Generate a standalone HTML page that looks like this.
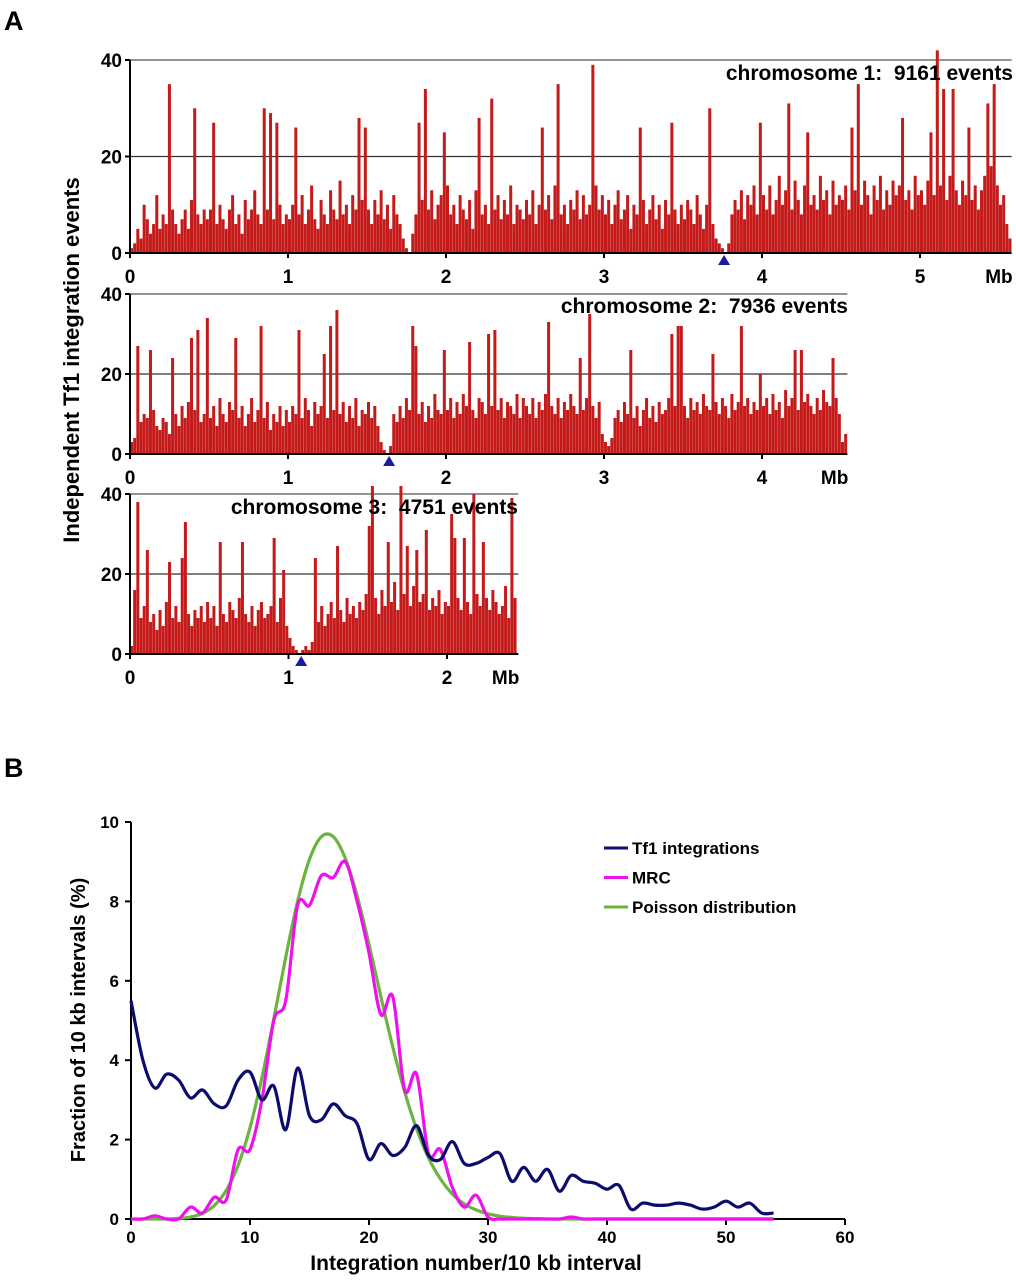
<!DOCTYPE html>
<html><head><meta charset="utf-8">
<style>
html,body{margin:0;padding:0;background:#fff;}
body{width:1016px;height:1280px;overflow:hidden;}
svg text{font-family:"Liberation Sans",Arial,sans-serif;font-weight:bold;fill:#000;}
</style></head>
<body>
<svg id="fig" width="1016" height="1280" viewBox="0 0 1016 1280" xmlns="http://www.w3.org/2000/svg">
<text x="4" y="30" font-size="27">A</text>
<text x="4" y="777" font-size="27">B</text>
<text transform="translate(79,360) rotate(-90)" text-anchor="middle" font-size="22">Independent Tf1 integration events</text>
<g id="panelA"></g>
<g id="panelB"></g>
</svg>
<script>
// ---------- Panel A data (20 kb bins) ----------
const chr1Values = [
1,2,5,3,10,7,4,6,12,5,8,6,35,9,6,4,7,9,5,11,30,8,6,9,7,
9,27,6,10,7,5,9,12,6,8,4,11,7,9,13,8,6,30,9,29,7,27,10,6,8,
7,10,26,8,12,6,9,14,7,5,11,8,6,13,9,7,15,8,10,6,12,9,28,11,26,
9,6,11,8,13,7,10,5,12,8,6,3,1,0,4,8,27,11,34,9,13,7,10,12,25,
14,8,10,6,12,9,7,11,5,13,28,8,10,6,32,9,12,7,11,8,14,6,10,9,7,
11,8,13,6,10,26,9,12,7,14,35,8,10,6,11,9,13,7,12,8,10,39,14,9,12,
8,11,6,10,13,7,9,12,5,10,8,26,11,6,9,12,7,10,5,11,8,27,9,6,10,
7,11,9,6,12,8,5,10,30,6,3,2,1,0,2,8,11,9,13,7,12,10,14,8,27,
12,9,14,8,11,16,10,13,31,9,15,11,8,14,25,10,12,9,16,11,13,8,15,10,12,
11,14,9,26,13,35,10,15,12,8,14,11,16,9,13,10,15,12,14,28,11,13,9,16,12,
13,10,15,25,12,42,14,34,11,16,34,13,10,15,12,26,11,14,9,13,16,31,18,35,14,
10,12,6,3];
const chr2Values = [
3,4,27,8,10,9,26,11,7,6,9,8,5,24,10,7,12,9,13,29,11,31,8,10,34,
9,12,7,14,10,8,13,11,29,9,12,7,10,14,8,11,32,9,13,6,10,8,12,7,11,
8,12,10,31,9,14,11,7,13,10,12,25,9,32,11,36,10,13,8,12,9,14,7,11,10,
13,9,12,7,3,1,0,2,10,8,12,9,14,11,32,27,10,13,8,12,9,15,11,10,26,
11,14,9,13,10,15,12,28,11,9,14,13,10,30,12,31,11,14,9,13,12,10,15,9,14,
12,10,14,9,13,11,15,33,12,10,14,9,13,11,15,12,10,24,11,14,35,12,9,13,5,
3,2,4,9,11,8,13,10,26,9,12,7,11,14,9,12,8,13,10,11,14,30,12,32,32,
12,9,14,11,13,10,15,12,11,25,13,10,14,12,9,15,11,13,32,12,14,10,13,11,20,
12,14,10,15,11,13,9,16,12,14,26,11,26,13,15,12,10,14,11,16,13,12,24,14,10,
3,5];
const chr3Values = [
2,16,38,9,12,26,8,10,6,11,7,13,23,9,12,8,24,33,10,7,11,9,12,8,13,
9,12,7,28,10,8,13,11,9,14,28,10,8,12,7,11,13,9,10,12,29,8,14,21,7,
4,2,1,0,1,2,1,3,24,8,12,7,10,13,9,27,11,8,14,10,12,9,13,11,15,
32,42,14,10,16,12,28,13,18,11,42,15,27,12,17,26,13,15,31,11,14,12,16,10,13,
12,35,29,14,11,29,13,10,40,15,12,28,14,11,16,13,10,12,17,9,39,14];
const binMb = 0.02;
const yTicksA = [0,20,40];
const chr1Ticks = [0,1,2,3,4,5];
const chr2Ticks = [0,1,2,3,4];
const chr3Ticks = [0,1,2];
const chrLengths = [5.58,4.54,2.45];
const centromeres = [3.76,1.64,1.08];
const chrLabels = ["chromosome 1:\u00a0 9161 events","chromosome 2:\u00a0 7936 events","chromosome 3:\u00a0 4751 events"];

// ---------- Panel B data ----------
const bX = Array.from({length:55},(_,i)=>i);
const tf1Values = [5.5,4.0,3.3,3.65,3.5,3.05,3.25,2.9,2.85,3.5,3.7,3.0,3.35,2.25,3.8,2.6,2.5,2.9,2.6,2.4,1.5,1.9,1.6,1.8,2.35,1.6,1.5,1.95,1.4,1.4,1.55,1.65,0.95,1.3,0.95,1.25,0.7,1.1,0.95,0.9,0.75,0.85,0.25,0.4,0.35,0.35,0.4,0.35,0.25,0.3,0.45,0.3,0.4,0.15,0.15];
const mrcValues = [0,0,0.08,0,0,0.3,0.15,0.55,0.48,1.75,1.75,3.0,5.0,5.5,7.9,7.9,8.65,8.6,9.0,8.0,6.7,5.15,5.6,3.25,3.65,1.65,1.75,0.8,0.3,0.6,0.05,0,0,0,0,0,0,0.05,0,0,0,0,0,0,0,0,0,0,0,0,0,0,0,0,0];
const poissonValues = [0,0,0,0,0.015,0.05,0.14,0.34,0.72,1.35,2.3,3.56,5.04,6.59,8.0,9.06,9.63,9.63,9.09,8.14,6.92,5.6,4.33,3.2,2.27,1.54,1.01,0.63,0.38,0.23,0.13,0.07,0.04,0.02,0.01,0,0,0,0,0,0,0,0,0,0,0,0,0,0,0,0,0,0,0,0];
const xTicksB = [0,10,20,30,40,50,60];
const yTicksB = [0,2,4,6,8,10];

const NS = "http://www.w3.org/2000/svg";
function mk(tag, attrs, parent){
  const e = document.createElementNS(NS, tag);
  for (const k in attrs) e.setAttribute(k, attrs[k]);
  parent.appendChild(e);
  return e;
}

// ---------- Panel A ----------
const A = document.getElementById('panelA');
const chrs = [
  {vals:chr1Values, ticks:chr1Ticks, y0:253, h40:193, x0:130, mbPx:158, labelX:1013, labelY:80},
  {vals:chr2Values, ticks:chr2Ticks, y0:454, h40:160, x0:130, mbPx:158, labelX:848, labelY:313},
  {vals:chr3Values, ticks:chr3Ticks, y0:654, h40:160, x0:130, mbPx:158.5, labelX:518, labelY:514}
];
chrs.forEach((c, ci) => {
  const g = mk('g', {}, A);
  
  
  const xs = mb => c.x0 + mb * c.mbPx;
  const ys = v => c.y0 - v * c.h40 / 40;
  const xEnd = xs(chrLengths[ci]);
  [20,40].forEach(t => {
    const l = mk('line', {x1:c.x0, x2:xEnd, y1:ys(t), y2:ys(t), stroke: t===40?'#555':'#333', 'stroke-width':1.2}, g);
    
    
  });
  c.vals.forEach((v, i) => {
    if (v <= 0) return;
    const r = mk('rect', {x: xs(i*binMb), y: ys(v), width: 3.0, height: c.y0 - ys(v), fill: '#c41a1a'}, g);
    
    
  });
  mk('line', {x1:c.x0, x2:c.x0, y1:ys(40), y2:c.y0, stroke:'#000', 'stroke-width':2}, g);
  mk('line', {x1:c.x0, x2:xEnd, y1:c.y0, y2:c.y0, stroke:'#000', 'stroke-width':2}, g);
  yTicksA.forEach(t => {
    mk('line', {x1:c.x0-5, x2:c.x0, y1:ys(t), y2:ys(t), stroke:'#000', 'stroke-width':2}, g);
    const tx = mk('text', {x:c.x0-8, y:ys(t)+7, 'text-anchor':'end', 'font-size':19}, g);
    tx.textContent = t;
    
    
  });
  c.ticks.forEach(t => {
    mk('line', {x1:xs(t), x2:xs(t), y1:c.y0, y2:c.y0+5, stroke:'#000', 'stroke-width':2}, g);
    const tx = mk('text', {x:xs(t), y:c.y0+30, 'text-anchor':'middle', 'font-size':19}, g);
    tx.textContent = t;
    
    
  });
  const mbT = mk('text', {x:xEnd+1, y:c.y0+30, 'text-anchor':'end', 'font-size':19}, g);
  mbT.textContent = 'Mb';
  
  
  const cx = xs(centromeres[ci]);
  const tri = mk('polygon', {points:`${cx},${c.y0+2} ${cx-6},${c.y0+12} ${cx+6},${c.y0+12}`, fill:'#1a1aa0'}, g);
  
  
  const lab = mk('text', {x:c.labelX, y:c.labelY, 'text-anchor':'end', 'font-size':21}, g);
  lab.textContent = chrLabels[ci];
  
  
});

// ---------- Panel B ----------
const B = document.getElementById('panelB');
const bx = v => 131 + v * 11.9;
const by = v => 1219 - v * 39.7;
function smoothPath(xsArr, ysArr){
  const p = xsArr.map((x,i)=>[bx(x), by(ysArr[i])]);
  let d = `M${p[0][0]},${p[0][1]}`;
  for (let i=0;i<p.length-1;i++){
    const p0=p[Math.max(0,i-1)], p1=p[i], p2=p[i+1], p3=p[Math.min(p.length-1,i+2)];
    const c1=[p1[0]+(p2[0]-p0[0])/6, p1[1]+(p2[1]-p0[1])/6];
    const c2=[p2[0]-(p3[0]-p1[0])/6, p2[1]-(p3[1]-p1[1])/6];
    d += ` C${c1[0]},${c1[1]} ${c2[0]},${c2[1]} ${p2[0]},${p2[1]}`;
  }
  return d;
}
mk('line', {x1:131, x2:131, y1:by(10), y2:1219, stroke:'#000', 'stroke-width':2}, B);
mk('line', {x1:131, x2:bx(60), y1:1219, y2:1219, stroke:'#000', 'stroke-width':2}, B);
yTicksB.forEach(t => {
  mk('line', {x1:125, x2:131, y1:by(t), y2:by(t), stroke:'#000', 'stroke-width':2}, B);
  const tx = mk('text', {x:119, y:by(t)+6, 'text-anchor':'end', 'font-size':17}, B);
  tx.textContent = t;
  
  
});
xTicksB.forEach(t => {
  mk('line', {x1:bx(t), x2:bx(t), y1:1219, y2:1225, stroke:'#000', 'stroke-width':2}, B);
  const tx = mk('text', {x:bx(t), y:1243, 'text-anchor':'middle', 'font-size':17}, B);
  tx.textContent = t;
  
  
});
const xt = mk('text', {x:476, y:1270, 'text-anchor':'middle', 'font-size':21}, B);
xt.textContent = 'Integration number/10 kb interval';


const yt = mk('text', {transform:'translate(85,1020) rotate(-90)', 'text-anchor':'middle', 'font-size':20}, B);
yt.textContent = 'Fraction of 10 kb intervals (%)';



const series = [
  {vals:poissonValues, color:'#6cb33f', name:'poisson-line'},
  {vals:mrcValues, color:'#ee11ee', name:'mrc-line'},
  {vals:tf1Values, color:'#0c0c6e', name:'tf1-line'}
];
series.forEach(s => {
  const path = mk('path', {d:smoothPath(bX, s.vals), fill:'none', stroke:s.color, 'stroke-width':3.2, 'stroke-linejoin':'round'}, B);
  
  
});
const legend = [['Tf1 integrations','#0c0c6e'],['MRC','#ee11ee'],['Poisson distribution','#6cb33f']];
legend.forEach((L,i) => {
  const y = 848 + i*29.5;
  const g = mk('g', {}, B);
  
  
  mk('line', {x1:604, x2:628, y1:y, y2:y, stroke:L[1], 'stroke-width':3}, g);
  const tx = mk('text', {x:632, y:y+6, 'font-size':17}, g);
  tx.textContent = L[0];
});
</script>
</body></html>
